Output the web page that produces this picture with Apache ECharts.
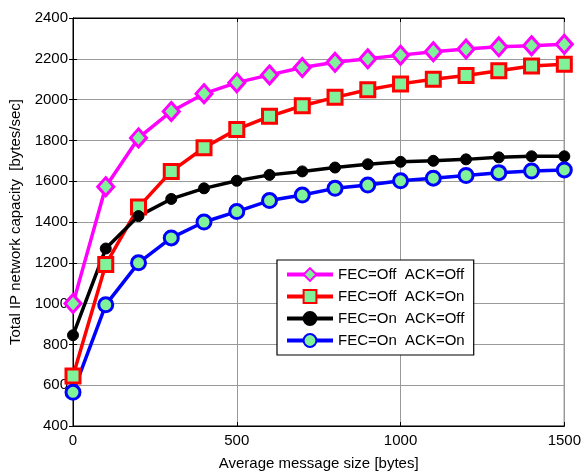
<!DOCTYPE html>
<html><head><meta charset="utf-8">
<script src="https://cdn.jsdelivr.net/npm/echarts@6/dist/echarts.min.js"></script>
<style>html,body{margin:0;padding:0;background:#fff}#c{width:584px;height:476px}</style>
</head><body><div id="c"></div>
<script>
var sizes = [0,100,200,300,400,500,600,700,800,900,1000,1100,1200,1300,1400,1500];
var fecOffAckOff = [1000,1573,1812,1942,2029,2083,2121,2157,2183,2200,2218,2235,2248,2259,2264,2271];
var fecOffAckOn  = [645,1192,1473,1648,1764,1854,1918,1970,2011,2048,2077,2100,2118,2141,2165,2173];
var fecOnAckOff  = [845,1270,1429,1513,1565,1602,1631,1648,1667,1683,1695,1700,1707,1717,1722,1722];
var fecOnAckOn   = [565,994,1200,1322,1400,1451,1505,1532,1565,1581,1602,1615,1628,1642,1650,1655];
var names = ['FEC=Off  ACK=Off','FEC=Off  ACK=On','FEC=On  ACK=Off','FEC=On  ACK=On'];
var xTicks = [0,500,1000,1500];

function pairs(ys){ return sizes.map(function(x,i){return [x, ys[i]];}); }
var fill = '#7ff29a';
var font = 'Liberation Sans, Arial, sans-serif';
var colors = ['#ff00ff','#ff0000','#000000','#0000ff'];

var chart = echarts.init(document.getElementById('c'), null, {renderer:'canvas'});
function mk(name, ys, color, symbol, size, fillColor, bw){
  return {
    name: name, type:'line', data: pairs(ys), symbol: symbol, symbolSize: size,
    showAllSymbol: true, animation:false,
    lineStyle:{color:color, width:3.5},
    itemStyle:{color:fillColor, borderColor:color, borderWidth:bw},
    emphasis:{disabled:true}
  };
}
chart.setOption({
  animation:false,
  backgroundColor:'#fff',
  grid:{left:73, right:16, top:18, bottom:47, show:true, borderColor:'#000', borderWidth:1},
  legend:{
    orient:'vertical', left:277, top:260,
    backgroundColor:'#fff', borderColor:'#000', borderWidth:1.2,
    padding:[7,9,7,8], itemGap:7, itemWidth:46, itemHeight:16,
    textStyle:{fontFamily:font, fontSize:15, color:'#000'},
    data:names.map(function(n,i){return {name:n, lineStyle:{width:4, color:colors[i]}};})
  },
  xAxis:[{
    type:'value', min:0, max:1500, interval:500,
    name:'Average message size [bytes]', nameLocation:'middle', nameGap:30,
    nameTextStyle:{fontFamily:font, fontSize:15, color:'#000'},
    axisLine:{show:true, lineStyle:{color:'#000', width:1}},
    axisTick:{show:true, inside:true, length:4, lineStyle:{color:'#000'}},
    axisLabel:{fontFamily:font, fontSize:15, color:'#000', margin:7,
      formatter:function(v){return xTicks.indexOf(v)>=0? String(v):'';}},
    splitLine:{show:true, lineStyle:{color:'#9a9a9a', width:1}}
  },{
    type:'value', min:0, max:1500, interval:500, position:'top',
    axisLine:{show:true, lineStyle:{color:'#000'}},
    axisTick:{show:true, inside:true, length:4, lineStyle:{color:'#000'}},
    axisLabel:{show:false}, splitLine:{show:false}
  }],
  yAxis:[{
    type:'value', min:400, max:2400, interval:200,
    name:'Total IP network capacity  [bytes/sec]', nameLocation:'middle', nameGap:49,
    nameTextStyle:{fontFamily:font, fontSize:15, color:'#000'},
    axisLine:{show:true, lineStyle:{color:'#000', width:1}},
    axisTick:{show:true, inside:true, length:4, lineStyle:{color:'#000'}},
    axisLabel:{fontFamily:font, fontSize:15, color:'#000', margin:5,
      formatter:function(v){return String(v);}},
    splitLine:{show:true, lineStyle:{color:'#9a9a9a', width:1}}
  },{
    type:'value', min:400, max:2400, interval:200, position:'right',
    axisLine:{show:true, lineStyle:{color:'#000'}},
    axisTick:{show:true, inside:true, length:4, lineStyle:{color:'#000'}},
    axisLabel:{show:false}, splitLine:{show:false}
  }],
  series:[
    mk(names[0], fecOffAckOff, colors[0], 'diamond', [16,18], fill, 3),
    mk(names[1], fecOffAckOn, colors[1], 'rect', 14, fill, 3),
    mk(names[2], fecOnAckOff, colors[2], 'circle', 11, '#000000', 1),
    mk(names[3], fecOnAckOn, colors[3], 'circle', 14, fill, 3)
  ]
});
</script></body></html>
